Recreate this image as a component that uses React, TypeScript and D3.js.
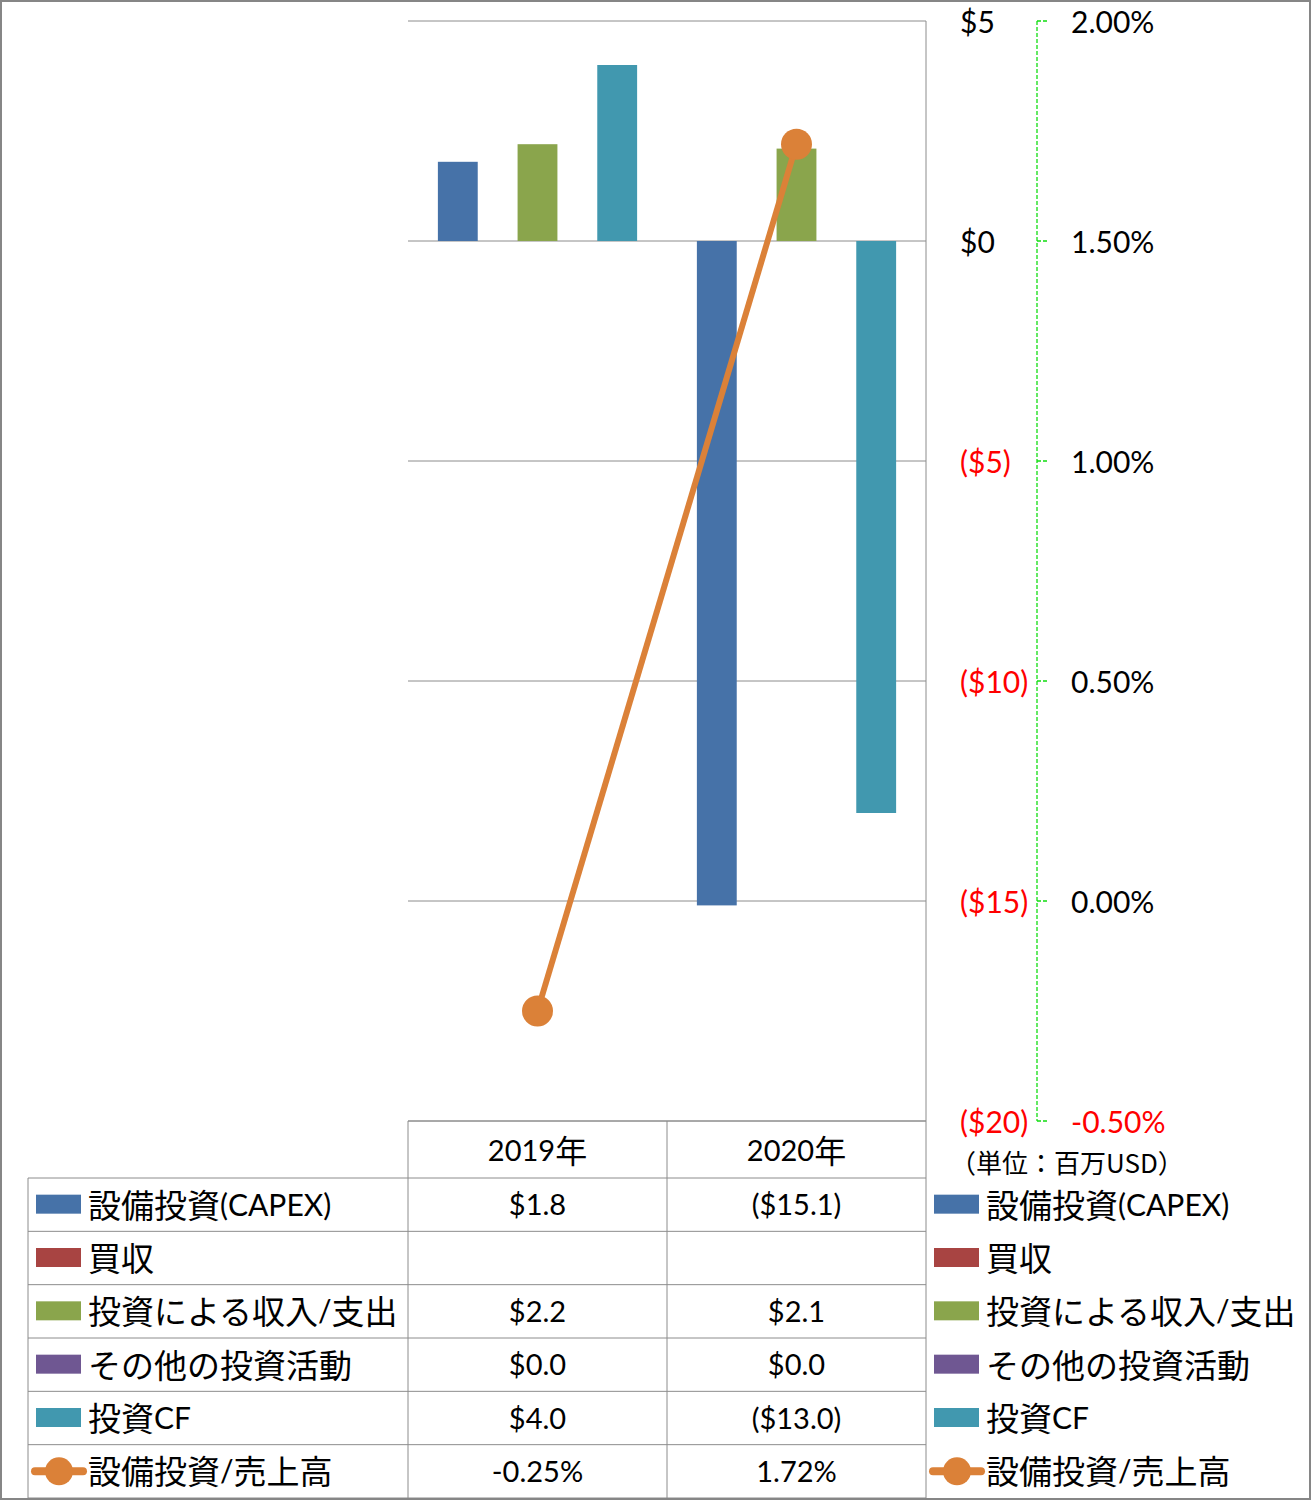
import React from "react";
import * as d3 from "d3";

const categories = ["2019年", "2020年"];
const seriesNames = ["設備投資(CAPEX)", "買収", "投資による収入/支出", "その他の投資活動", "投資CF"];
const seriesColors = ["#4672A8", "#A84442", "#8AA54C", "#6F5792", "#4198AF"];
const capex = [1.8, -15.1];
const acquisitions: (number | null)[] = [null, null];
const investIncome = [2.2, 2.1];
const otherInvest = [0.0, 0.0];
const investCF = [4.0, -13.0];
const lineName = "設備投資/売上高";
const capexRatio = [-0.25, 1.72];
const primaryTicks = [5, 0, -5, -10, -15, -20];
const secondaryTicks = [2.0, 1.5, 1.0, 0.5, 0.0, -0.5];
const unitLabel = "（単位：百万USD）";

const seriesValues = [capex, acquisitions, investIncome, otherInvest, investCF];
const LINE_COLOR = "#DB8138";
const GRID = "#8C8C8C";
const AXIS2 = "#11DD11";

const isCJK = (ch: string) => /[\u3000-\u30ff\u3400-\u9fff\uff00-\uffef]/.test(ch);

function MixedText(props: {
  text: string; x: number; y: number; anchor?: string; latin?: number; cjk?: number; fill?: string;
}) {
  const { text, x, y, anchor = "start", latin = 30, cjk = 33, fill = "#000" } = props;
  const runs: { s: string; c: boolean }[] = [];
  for (const ch of text) {
    const c = isCJK(ch);
    if (runs.length && runs[runs.length - 1].c === c) runs[runs.length - 1].s += ch;
    else runs.push({ s: ch, c });
  }
  return (
    <text x={x} y={y} textAnchor={anchor} dominantBaseline="central" fill={fill}>
      {runs.map((r, i) => (
        <tspan key={i} fontFamily={r.c ? "'Noto Sans CJK JP'" : "Lato"} fontSize={r.c ? cjk : latin}>
          {r.s}
        </tspan>
      ))}
    </text>
  );
}

const fmtMoney = (v: number) => (v < 0 ? `($${Math.abs(v)})` : `$${v}`);
const fmtMoney1 = (v: number | null) =>
  v === null ? "" : v < 0 ? `($${Math.abs(v).toFixed(1)})` : `$${v.toFixed(1)}`;
const fmtPct = (v: number) => `${v.toFixed(2)}%`;

export default function App() {
  const W = 1311, H = 1500;
  const plotL = 408, plotR = 926, plotT = 21, plotB = 1121;
  const y = d3.scaleLinear().domain([-20, 5]).range([plotB, plotT]);
  const y2 = d3.scaleLinear().domain([-0.5, 2]).range([plotB, plotT]);
  const x0 = d3.scaleBand<string>().domain(categories).range([plotL, plotR]).padding(0);
  const x1 = d3.scaleBand<string>().domain(seriesNames).range([0, x0.bandwidth()]).paddingInner(0).paddingOuter(0.75);
  const cx = (c: string) => (x0(c) as number) + x0.bandwidth() / 2;

  const linePath = d3.line<number>()
    .x((_, i) => cx(categories[i]))
    .y((d) => y2(d))(capexRatio) as string;

  const rowNames = [...seriesNames, lineName];
  const rows = d3.scaleBand<string>().domain(rowNames).range([1178, 1498]);
  const headerTop = plotB, headerBot = 1178;
  const tableL = 28;
  const axisX2 = 1037;

  const tableVals: (number | null)[][] = [...seriesValues];

  const legendKey = (i: number, kx: number, cyv: number) => {
    if (i < seriesNames.length) {
      return <rect x={kx} y={cyv - 10} width={45} height={19} fill={seriesColors[i]} />;
    }
    return (
      <g>
        <line x1={kx - 1} x2={kx + 47} y1={cyv} y2={cyv} stroke={LINE_COLOR} strokeWidth={8} strokeLinecap="round" />
        <circle cx={kx + 23} cy={cyv} r={14} fill={LINE_COLOR} />
      </g>
    );
  };

  return (
    <div>
      <style>{`body{margin:0}`}</style>
      <svg width={W} height={H} style={{ display: "block" }}>
        <rect x={0} y={0} width={W} height={H} fill="#fff" />
        {/* gridlines */}
        {primaryTicks.map((t) => (
          <line key={t} x1={plotL} x2={plotR} y1={y(t)} y2={y(t)} stroke={GRID} strokeWidth={1} />
        ))}
        <line x1={plotR} x2={plotR} y1={plotT} y2={H} stroke={GRID} strokeWidth={1} />

        {/* bars */}
        {seriesValues.map((vals, si) =>
          vals.map((v, ci) => {
            if (v === null || v === 0) return null;
            const bx = (x0(categories[ci]) as number) + (x1(seriesNames[si]) as number);
            const top = Math.min(y(v), y(0));
            const h = Math.abs(y(v) - y(0));
            return <rect key={`${si}-${ci}`} x={bx} y={top} width={x1.bandwidth()} height={h} fill={seriesColors[si]} />;
          })
        )}

        {/* line series */}
        <path d={linePath} fill="none" stroke={LINE_COLOR} strokeWidth={6} />
        {capexRatio.map((v, i) => (
          <circle key={i} cx={cx(categories[i])} cy={y2(v)} r={15.5} fill={LINE_COLOR} />
        ))}

        {/* primary axis labels */}
        {primaryTicks.map((t) => (
          <text key={t} x={960} y={y(t)} dominantBaseline="central" fontFamily="Lato" fontSize={30}
            fill={t < 0 ? "#FF0000" : "#000"}>{fmtMoney(t)}</text>
        ))}

        {/* secondary axis */}
        <line x1={axisX2} x2={axisX2} y1={plotT} y2={plotB} stroke={AXIS2} strokeWidth={1.3} strokeDasharray="4,2" />
        {secondaryTicks.map((t) => (
          <g key={t}>
            <line x1={axisX2} x2={axisX2 + 12} y1={y2(t)} y2={y2(t)} stroke={AXIS2} strokeWidth={1.3} strokeDasharray="4,2" />
            <text x={1071} y={y2(t)} dominantBaseline="central" fontFamily="Lato" fontSize={30}
              fill={t < 0 ? "#FF0000" : "#000"}>{fmtPct(t)}</text>
          </g>
        ))}

        {/* unit label */}
        <text x={950} y={1161} dominantBaseline="central" fontFamily="'Noto Sans CJK JP'" fontSize={26} fill="#000">
          {unitLabel}
        </text>

        {/* data table */}
        <line x1={plotL} x2={plotR} y1={headerTop} y2={headerTop} stroke={GRID} />
        <line x1={tableL} x2={plotR} y1={headerBot} y2={headerBot} stroke={GRID} />
        {rowNames.map((r) => {
          const yb = (rows(r) as number) + rows.bandwidth();
          return <line key={r} x1={tableL} x2={plotR} y1={yb} y2={yb} stroke={GRID} />;
        })}
        <line x1={tableL} x2={tableL} y1={headerBot} y2={H} stroke={GRID} />
        {categories.map((c) => (
          <line key={c} x1={x0(c)} x2={x0(c)} y1={headerTop} y2={H} stroke={GRID} />
        ))}
        {categories.map((c) => (
          <MixedText key={c} text={c} x={cx(c)} y={(headerTop + headerBot) / 2 - 1} anchor="middle" latin={29} cjk={32} />
        ))}
        {rowNames.map((r, ri) => {
          const cyv = (rows(r) as number) + rows.bandwidth() / 2;
          return (
            <g key={r}>
              {legendKey(ri, 36, cyv)}
              <MixedText text={r} x={88} y={cyv - 1} latin={30} cjk={33} />
              {categories.map((c, ci) => {
                const txt = ri < seriesNames.length ? fmtMoney1(tableVals[ri][ci]) : fmtPct(capexRatio[ci]);
                return <text key={c} x={cx(c)} y={cyv - 1} textAnchor="middle" dominantBaseline="central"
                  fontFamily="Lato" fontSize={29} fill="#000">{txt}</text>;
              })}
              {legendKey(ri, 934, cyv)}
              <MixedText text={r} x={986} y={cyv - 1} latin={30} cjk={33} />
            </g>
          );
        })}

        {/* outer border */}
        <rect x={1} y={1} width={W - 2} height={H - 2} fill="none" stroke="#868686" strokeWidth={2} />
      </svg>
    </div>
  );
}
